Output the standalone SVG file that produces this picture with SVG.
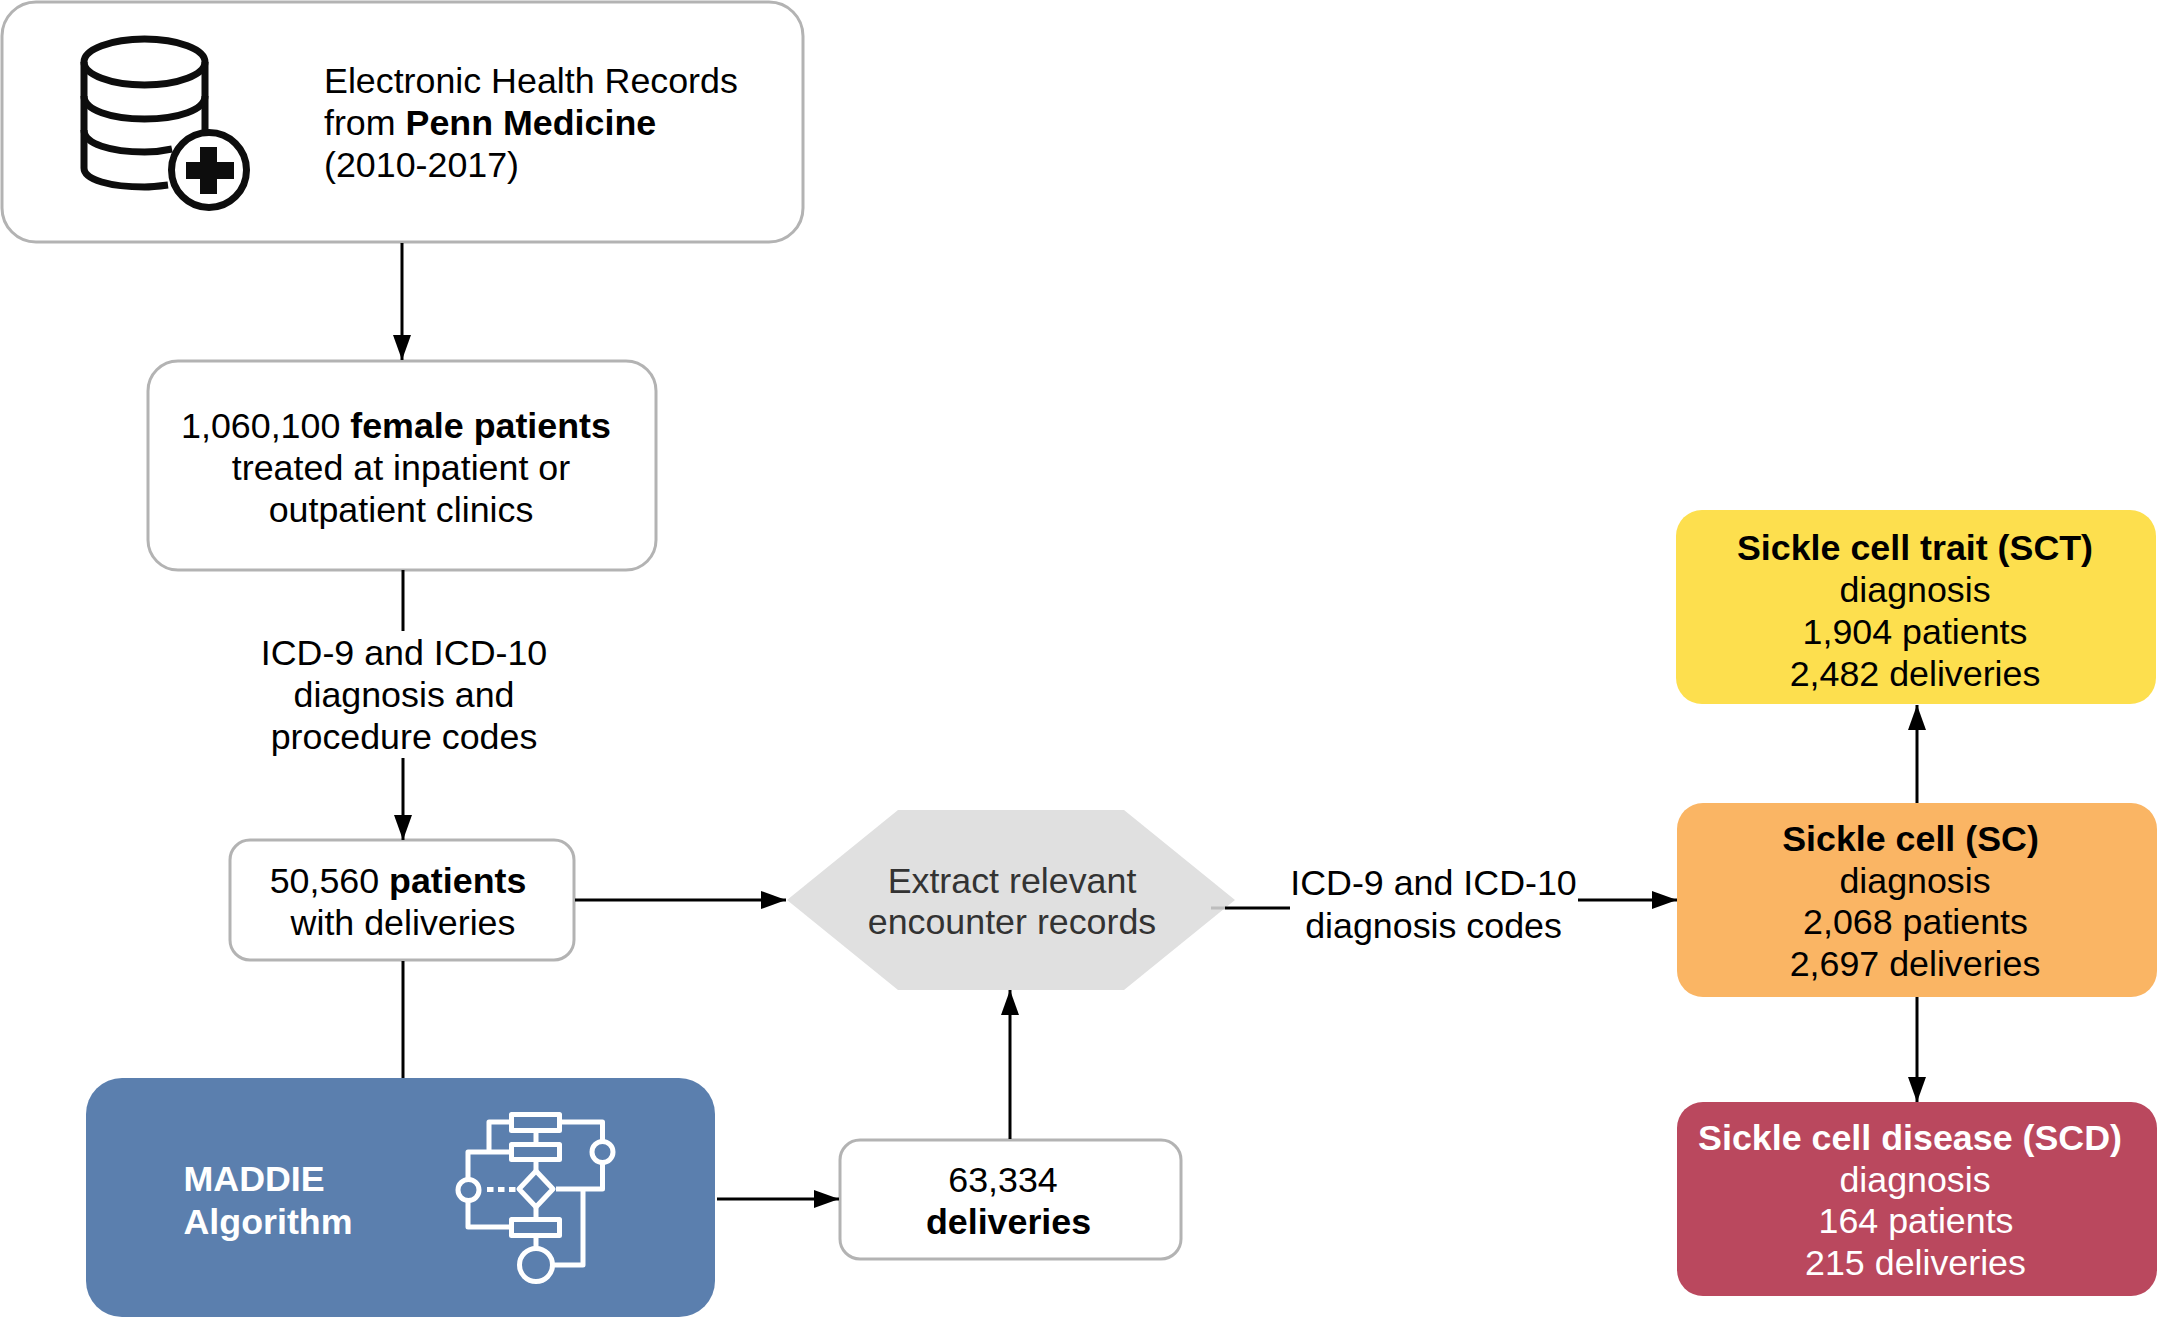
<svg xmlns="http://www.w3.org/2000/svg" width="2157" height="1318" viewBox="0 0 2157 1318">
<style>
text{font-family:"Liberation Sans",Arial,Helvetica,sans-serif;font-size:35.8px;fill:#000}
.m{text-anchor:middle}
.b{font-weight:700}
.w{fill:#fff}
.box{fill:#fff;stroke:#b3b3b3;stroke-width:3}
.c{fill:none;stroke:#000;stroke-width:3}
.ico{fill:none;stroke:#0d0d0d;stroke-width:7}
.flow{fill:none;stroke:#fff;stroke-width:5;stroke-linejoin:round}
</style>
<defs>
<marker id="a" markerUnits="userSpaceOnUse" markerWidth="26" markerHeight="18" refX="25" refY="9" orient="auto"><path d="M0 0L25 9L0 18Z" fill="#000"/></marker>
</defs>
<rect width="2157" height="1318" fill="#fff"/>
<g id="node-ehr">
<rect class="box" x="2" y="2" width="801" height="240" rx="34"/>
<g id="db-icon">
<path class="ico" d="M84 62V168C84 180 111 187 144.500 187C152 187 160 186 168 185M205 62V132"/>
<ellipse class="ico" cx="144.500" cy="62" rx="60.500" ry="23"/>
<path class="ico" d="M84 96C84 110 111 119 144.500 119C178 119 205 110 205 96M84 130C84 144 111 152 144.500 152C152 152 163 151 172 149"/>
<circle class="ico" cx="209" cy="170" r="37.500"/>
<path d="M200 147H217V162H234V179H217V194H200V179H186V162H200Z" fill="#0d0d0d"/>
</g>
<text x="324" y="93">Electronic Health Records</text>
<text x="324" y="135">from <tspan class="b">Penn Medicine</tspan></text>
<text x="324" y="177">(2010-2017)</text>
</g>
<g id="node-female">
<rect class="box" x="148" y="361" width="508" height="209" rx="30"/>
<text class="m" x="396" y="438">1,060,100 <tspan class="b">female patients</tspan></text>
<text class="m" x="401" y="480">treated at inpatient or</text>
<text class="m" x="401" y="522">outpatient clinics</text>
</g>
<g id="label-codes">
<text class="m" x="404" y="665">ICD-9 and ICD-10</text>
<text class="m" x="404" y="707">diagnosis and</text>
<text class="m" x="404" y="749">procedure codes</text>
</g>
<g id="node-patients">
<rect class="box" x="230" y="840" width="344" height="120" rx="20"/>
<text class="m" x="398" y="893">50,560 <tspan class="b">patients</tspan></text>
<text class="m" x="403" y="935">with deliveries</text>
</g>
<g id="node-maddie">
<rect x="86" y="1078" width="629" height="239" rx="36" fill="#5b7fae"/>
<text class="b w" x="183.500" y="1191">MADDIE</text>
<text class="b w" x="183.500" y="1234">Algorithm</text>
<g id="flow-icon" class="flow">
<rect x="511.500" y="1114.500" width="48" height="16"/>
<rect x="511.500" y="1144.500" width="48" height="15"/>
<rect x="511.500" y="1219.500" width="48" height="16"/>
<path d="M536 1133V1142M536 1162V1172M536 1206V1217M536 1238V1248"/>
<path d="M536 1171L553 1189L536 1207L519 1189Z"/>
<circle cx="536" cy="1265" r="16.500"/>
<circle cx="468.500" cy="1190" r="10.500"/>
<circle cx="602.500" cy="1152" r="10.500"/>
<path d="M509 1122H489V1152M509 1152H468V1179M468 1201V1227H509M562 1122H602.500V1141M602.500 1163V1189H556M583 1189V1265H553"/>
<path d="M487 1189.500H516" stroke-dasharray="6.500 4.500"/>
</g>
</g>
<g id="node-deliveries">
<rect class="box" x="840" y="1140" width="341" height="119" rx="20"/>
<text class="m" x="1003" y="1192">63,334</text>
<text class="m b" x="1008.500" y="1234">deliveries</text>
</g>
<g id="node-extract">
<path d="M787 900L898 810H1124L1235 900L1124 990H898Z" fill="#e0e0e0"/>
<text class="m" x="1012" y="893" style="fill:#333">Extract relevant</text>
<text class="m" x="1012" y="934" style="fill:#333">encounter records</text>
</g>
<g id="label-dx">
<text class="m" x="1433.500" y="895">ICD-9 and ICD-10</text>
<text class="m" x="1433.500" y="938">diagnosis codes</text>
</g>
<g id="node-sct">
<rect x="1676" y="510" width="480" height="194" rx="26" fill="#fddf4e"/>
<text class="m b" x="1915" y="560">Sickle cell trait (SCT)</text>
<text class="m" x="1915" y="602">diagnosis</text>
<text class="m" x="1915" y="644">1,904 patients</text>
<text class="m" x="1915" y="686">2,482 deliveries</text>
</g>
<g id="node-sc">
<rect x="1677" y="803" width="480" height="194" rx="26" fill="#fab564"/>
<text class="m b" x="1910.500" y="851">Sickle cell (SC)</text>
<text class="m" x="1915" y="893">diagnosis</text>
<text class="m" x="1915.500" y="934">2,068 patients</text>
<text class="m" x="1915" y="976">2,697 deliveries</text>
</g>
<g id="node-scd">
<rect x="1677" y="1102" width="480" height="194" rx="26" fill="#ba485e"/>
<text class="m b w" x="1910" y="1150">Sickle cell disease (SCD)</text>
<text class="m w" x="1915" y="1192">diagnosis</text>
<text class="m w" x="1916" y="1233">164 patients</text>
<text class="m w" x="1915.500" y="1275">215 deliveries</text>
</g>
<g id="connectors">
<path class="c" d="M402 243V360" marker-end="url(#a)"/>
<path class="c" d="M403 570V631M403 758V840" marker-end="url(#a)"/>
<path class="c" d="M403 961V1078"/>
<path class="c" d="M575 900H786" marker-end="url(#a)"/>
<path class="c" d="M717 1199H839" marker-end="url(#a)"/>
<path class="c" d="M1010 1139V990" marker-end="url(#a)"/>
<path class="c" d="M1225 908H1290"/>
<path class="c" d="M1211 908H1225" style="stroke:#bdbdbd"/>
<path class="c" d="M1578 900H1677" marker-end="url(#a)"/>
<path class="c" d="M1917 803V705" marker-end="url(#a)"/>
<path class="c" d="M1917 997V1102" marker-end="url(#a)"/>
</g>
</svg>
